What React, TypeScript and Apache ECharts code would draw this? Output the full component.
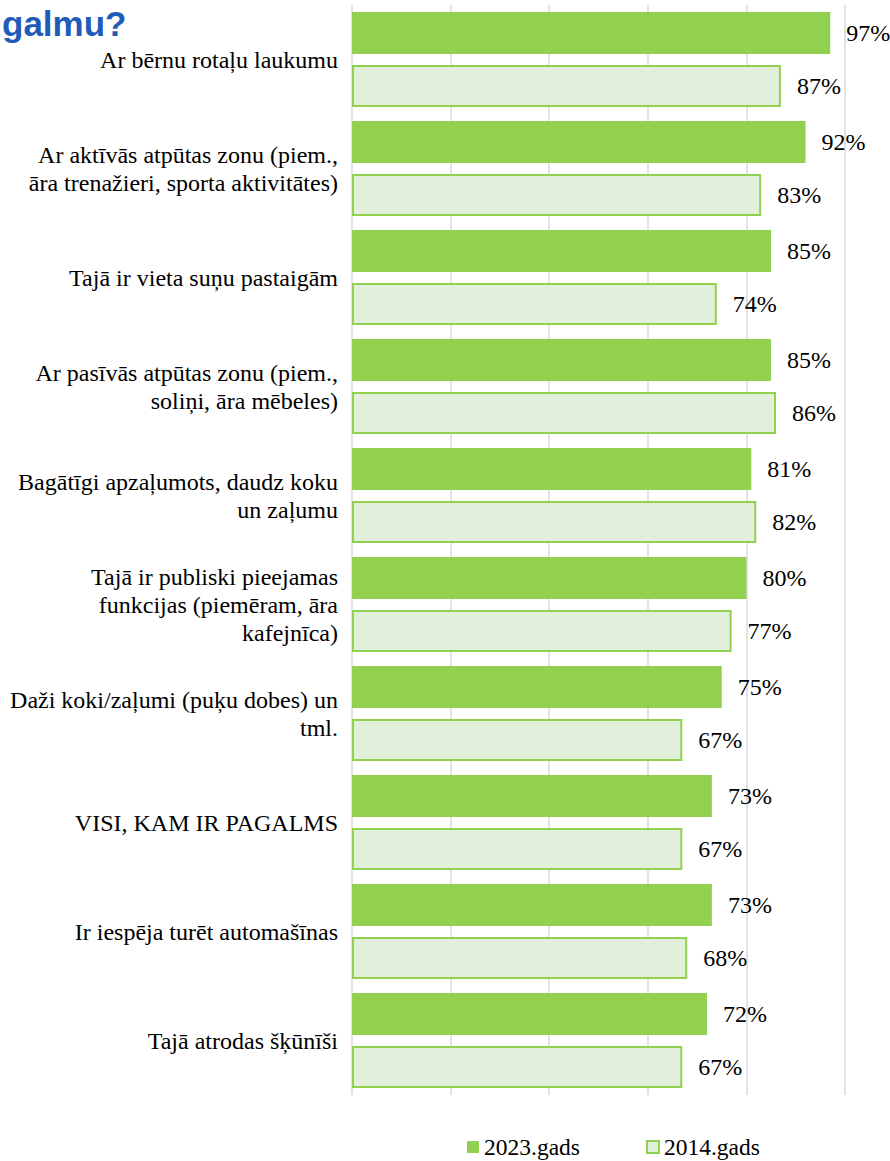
import React, { useEffect, useRef } from "react";
import * as echarts from "echarts";

const categories = [
  "Ar bērnu rotaļu laukumu",
  "Ar aktīvās atpūtas zonu (piem.,\nāra trenažieri, sporta aktivitātes)",
  "Tajā ir vieta suņu pastaigām",
  "Ar pasīvās atpūtas zonu (piem.,\nsoliņi, āra mēbeles)",
  "Bagātīgi apzaļumots, daudz koku\nun zaļumu",
  "Tajā ir publiski pieejamas\nfunkcijas (piemēram, āra\nkafejnīca)",
  "Daži koki/zaļumi (puķu dobes) un\ntml.",
  "VISI, KAM IR PAGALMS",
  "Ir iespēja turēt automašīnas",
  "Tajā atrodas šķūnīši",
];
const values2023 = [97, 92, 85, 85, 81, 80, 75, 73, 73, 72];
const values2014 = [87, 83, 74, 86, 82, 77, 67, 67, 68, 67];
const seriesNames = ["2023.gads", "2014.gads"];
const titleText = "galmu?";

export default function App() {
  const ref = useRef<HTMLDivElement>(null);
  useEffect(() => {
    if (!ref.current) return;
    const chart = echarts.init(ref.current, undefined, { renderer: "svg" });
    const serif = "Liberation Serif";
    const labelStyle = {
      show: true,
      position: "right",
      distance: 16,
      formatter: "{c}%",
      fontFamily: serif,
      fontSize: 24,
      color: "#000",
    };
    chart.setOption({
      animation: false,
      backgroundColor: "#ffffff",
      textStyle: { fontFamily: serif },
      title: {
        text: titleText,
        left: -3,
        top: 1,
        textStyle: {
          fontFamily: "Liberation Sans",
          fontWeight: "bold",
          fontSize: 35,
          color: "#1f5bb8",
        },
      },
      legend: {
        bottom: -3,
        left: 462,
        itemWidth: 12,
        itemHeight: 12,
        itemGap: 66,
        textStyle: { fontFamily: serif, fontSize: 23.5, color: "#000" },
        data: [
          { name: seriesNames[0], icon: "rect" },
          { name: seriesNames[1], icon: "rect" },
        ],
      },
      grid: { left: 352, right: 45, top: 5, bottom: 66, containLabel: false },
      xAxis: {
        type: "value",
        min: 0,
        max: 100,
        interval: 20,
        axisLabel: { show: false },
        axisLine: { show: false },
        axisTick: { show: false },
        splitLine: { show: true, lineStyle: { color: "#d9d9d9", width: 1.5 } },
      },
      yAxis: {
        type: "category",
        inverse: true,
        data: categories,
        axisLine: { show: false },
        axisTick: { show: false },
        axisLabel: {
          margin: 14,
          fontFamily: serif,
          fontSize: 24,
          lineHeight: 28,
          color: "#000",
          align: "right",
        },
      },
      series: [
        {
          name: seriesNames[0],
          type: "bar",
          data: values2023,
          barWidth: 42,
          barGap: "26%",
          barCategoryGap: "13%",
          itemStyle: { color: "#92d050", borderColor: "#92d050", borderWidth: 0 },
          label: labelStyle,
        },
        {
          name: seriesNames[1],
          type: "bar",
          data: values2014,
          barWidth: 42,
          itemStyle: { color: "#e2efda", borderColor: "#92d050", borderWidth: 2 },
          label: labelStyle,
        },
      ],
    });
    return () => chart.dispose();
  }, []);
  return (
    <div
      ref={ref}
      style={{ position: "absolute", left: 0, top: 0, width: 890, height: 1161 }}
    />
  );
}
